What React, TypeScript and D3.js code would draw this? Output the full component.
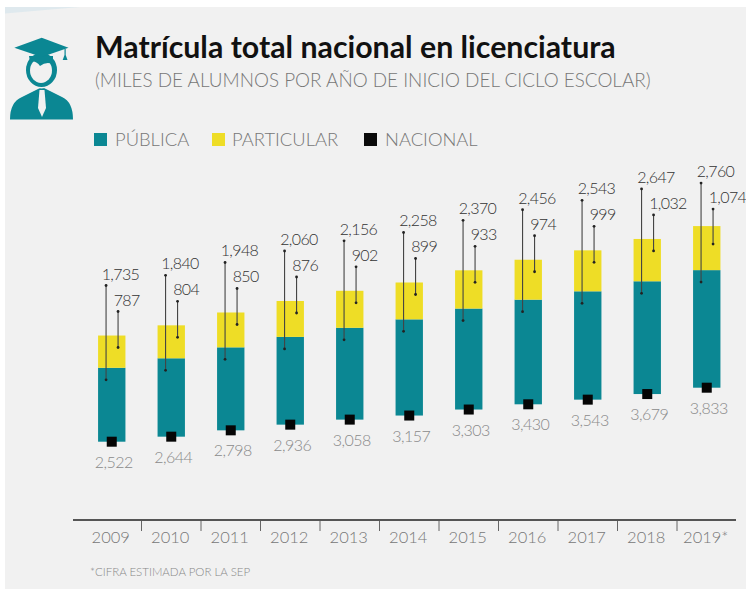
import React from 'react';
import * as d3 from 'd3';

const years = ['2009', '2010', '2011', '2012', '2013', '2014', '2015', '2016', '2017', '2018', '2019*'];
const publica = [1735, 1840, 1948, 2060, 2156, 2258, 2370, 2456, 2543, 2647, 2760];
const particular = [787, 804, 850, 876, 902, 899, 933, 974, 999, 1032, 1074];
const nacional = [2522, 2644, 2798, 2936, 3058, 3157, 3303, 3430, 3543, 3679, 3833];

const TEAL = '#0b8793';
const YELLOW = '#eedd26';
const GRAY = '#8a8a8a';
const DARK = '#444';
const BG = '#f1f1f1';
const FONT = 'Lato, "Open Sans", sans-serif';

const x = d3.scaleBand<string>().domain(years).range([82, 736.5]).paddingInner(0.54).paddingOuter(0.27);
// the bars float: their foot sits on the national scale, the segment heights use their own scales
const yFoot = d3.scaleLinear().domain([2522, 3833]).range([441.7, 387.7]);
const hPublica = d3.scaleLinear().domain([0, 1000]).range([0, 42.6]);
const hParticular = d3.scaleLinear().domain([0, 1000]).range([0, 41]);
const fmt = d3.format(',');

const legend = [
  { label: 'PÚBLICA', color: TEAL, x: 94, tx: 115 },
  { label: 'PARTICULAR', color: YELLOW, x: 212, tx: 232 },
  { label: 'NACIONAL', color: '#0a0a0a', x: 364, tx: 385 },
];

const Icon = () => (
  <g fill={TEAL}>
    <path d="M10 119.5 Q10 102 22 97 L34 91 L40 88 L44 88 L50 91 L62 97 Q73 102 73 119.5 Z" />
    <path d="M39.5 90 L44.5 90 L46 108 L42 117 L38 108 Z" fill={BG} />
    <ellipse cx={41.5} cy={70} rx={17.5} ry={18.5} fill={BG} />
    <ellipse cx={41.5} cy={70} rx={15.5} ry={17} />
    <ellipse cx={41} cy={70.5} rx={11} ry={12.5} fill={BG} />
    <path d="M29 56 L53 56 L53 64 Q46 61 40 66 Q36 60 30 62 Z" />
    <path d="M14.3 47.7 L41.7 37.7 L68.5 47.7 L41.7 57 Z" />
    <path d="M64.5 49 L65.7 49 L65.7 55 L67.5 60 L62.7 60 L64.5 55 Z" />
  </g>
);

export default function App() {
  return (
    <svg
      width={746}
      height={589}
      style={{ position: 'absolute', left: 0, top: 0, background: '#fff' }}
      fontFamily={FONT}
    >
      <rect x={5} y={7} width={741} height={582} fill={BG} />
      <path d="M5 7 L80 7 L5 13.5 Z" fill="#dfe9ee" />
      <Icon />
      <text x={95} y={58} fontSize={30.3} fontWeight={700} fill="#111">
        Matrícula total nacional en licenciatura
      </text>
      <text x={95} y={87} fontSize={18.9} fontWeight={300} fill="#777">
        (MILES DE ALUMNOS POR AÑO DE INICIO DEL CICLO ESCOLAR)
      </text>

      {legend.map((d) => (
        <g key={d.label}>
          <rect x={d.x} y={133} width={13} height={13} fill={d.color} />
          <text x={d.tx} y={146} fontSize={18.4} fontWeight={300} fill="#777">
            {d.label}
          </text>
        </g>
      ))}

      {years.map((year, i) => {
        const left = x(year)!;
        const w = x.bandwidth();
        const foot = yFoot(nacional[i]);
        const split = foot - hPublica(publica[i]);
        const top = split - hParticular(particular[i]);
        const last = i === years.length - 1;
        const pinA = left + 8;
        const pinB = left + 20;
        const pinATop = top - (last ? 43 : 50);
        const pinBTop = top - (last ? 17 : 24);
        const pinABottom = split + 12;
        const pinBBottom = top + (last ? 18 : 12);
        return (
          <g key={year}>
            <rect x={left} y={split} width={w} height={foot - split} fill={TEAL} />
            <rect x={left} y={top} width={w} height={split - top} fill={YELLOW} />
            <rect x={left + w / 2 - 5} y={foot - 5} width={10} height={10} fill="#050505" />
            <line x1={pinA} x2={pinA} y1={pinATop} y2={pinABottom} stroke={DARK} strokeWidth={1.1} />
            <line x1={pinB} x2={pinB} y1={pinBTop} y2={pinBBottom} stroke={DARK} strokeWidth={1.1} />
            {[[pinA, pinATop], [pinA, pinABottom], [pinB, pinBTop], [pinB, pinBBottom]].map(([cx, cy], k) => (
              <circle key={k} cx={cx} cy={cy} r={1.4} fill="#222" />
            ))}
            <text x={pinA - 4.4} y={pinATop - 6} fontSize={16} letterSpacing={-0.6} fontWeight={300} fill="#333">
              {fmt(publica[i])}
            </text>
            <text x={pinB - 4.4} y={pinBTop - 6} fontSize={16} letterSpacing={-0.6} fontWeight={300} fill="#333">
              {fmt(particular[i])}
            </text>
            <text
              x={left + w / 2 + 2}
              y={foot + 26}
              fontSize={16}
              letterSpacing={-0.5}
              fontWeight={300}
              fill={GRAY}
              textAnchor="middle"
            >
              {fmt(nacional[i])}
            </text>
            <text x={left + w / 2 - 1} y={543} fontSize={16.5} fontWeight={300} fill="#777" textAnchor="middle">
              {year}
            </text>
            {i > 0 && (
              <line x1={left - x.step() * 0.27} x2={left - x.step() * 0.27} y1={520} y2={531} stroke="#666" strokeWidth={1} />
            )}
          </g>
        );
      })}

      <line x1={73} x2={736} y1={520} y2={520} stroke="#555" strokeWidth={1.8} />
      <text x={90} y={576} fontSize={11.5} fontWeight={300} fill="#888">
        *CIFRA ESTIMADA POR LA SEP
      </text>
    </svg>
  );
}
